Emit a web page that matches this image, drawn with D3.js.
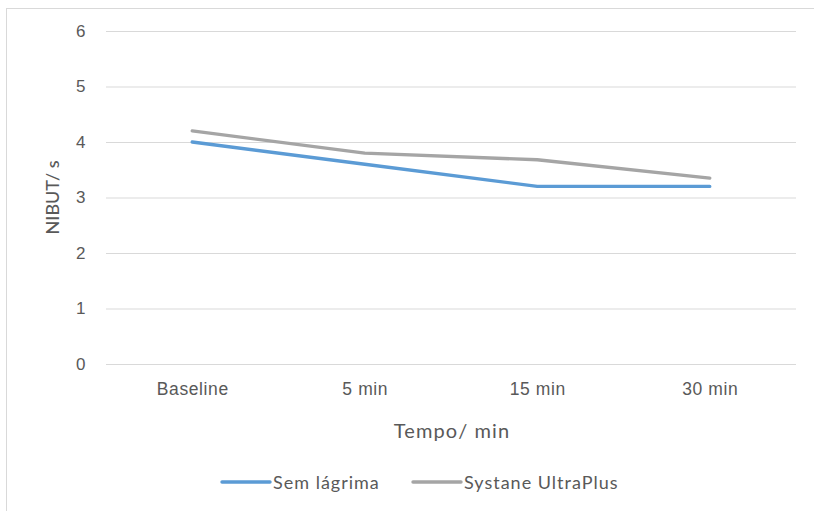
<!DOCTYPE html>
<html>
<head>
<meta charset="utf-8">
<script src="https://cdn.jsdelivr.net/npm/d3@7"></script>
<style>
  html, body { margin: 0; padding: 0; background: #fff; }
  svg { display: block; font-family: Lato, "Open Sans", sans-serif; }
</style>
</head>
<body>
<svg id="chart" width="814" height="511"></svg>
<script>
// Time points and NIBUT means (seconds)
const categories = ["Baseline", "5 min", "15 min", "30 min"];
const semLagrima = [4.0, 3.6, 3.2, 3.2];
const systane = [4.2, 3.8, 3.68, 3.35];
const yTicks = [0, 1, 2, 3, 4, 5, 6];
const seriesNames = ["Sem lágrima", "Systane UltraPlus"];
const seriesColors = ["#5b9bd5", "#a5a5a5"];

const svg = d3.select("#chart");

// outer chart frame
svg.append("rect")
  .attr("x", 6.5).attr("y", 8.5)
  .attr("width", 820).attr("height", 520)
  .attr("fill", "none").attr("stroke", "#d9d9d9").attr("stroke-width", 1);

const plot = { left: 106, right: 796, top: 31, bottom: 364 };

const x = d3.scalePoint().domain(categories)
  .range([plot.left, plot.right]).padding(0.5);
const y = d3.scaleLinear().domain([0, 6]).range([plot.bottom, plot.top]);

// horizontal gridlines + y labels
const yAxis = d3.axisLeft(y).tickValues(yTicks).tickSize(plot.right - plot.left).tickPadding(20).tickFormat(d3.format("d"));
const gy = svg.append("g").attr("transform", `translate(${plot.right},0)`).call(yAxis);
gy.select(".domain").remove();
gy.selectAll(".tick line").attr("stroke", "#d9d9d9").attr("stroke-width", 1);
gy.selectAll(".tick text").attr("fill", "#595959").style("font-size", "17px").style("letter-spacing", "0.5px");

// category labels
const xAxis = d3.axisBottom(x).tickSize(0).tickPadding(19);
const gx = svg.append("g").attr("transform", `translate(0,${plot.bottom})`).call(xAxis);
gx.select(".domain").remove();
gx.selectAll(".tick text").attr("fill", "#595959").style("font-size", "17.5px").style("letter-spacing", "0.6px");

// series lines
const line = d3.line().x((d, i) => x(categories[i])).y(d => y(d));
[semLagrima, systane].forEach((vals, k) => {
  svg.append("path").datum(vals)
    .attr("d", line)
    .attr("fill", "none")
    .attr("stroke", seriesColors[k])
    .attr("stroke-width", 3.4)
    .attr("stroke-linecap", "round")
    .attr("stroke-linejoin", "round");
});

// axis titles
svg.append("text")
  .attr("x", 452).attr("y", 438)
  .attr("text-anchor", "middle")
  .attr("fill", "#595959")
  .style("font-size", "20px")
  .style("letter-spacing", "1.1px")
  .text("Tempo/ min");

svg.append("text")
  .attr("transform", `translate(59,${(plot.top + plot.bottom) / 2}) rotate(-90)`)
  .attr("text-anchor", "middle")
  .attr("fill", "#595959")
  .style("font-size", "18px")
  .style("font-weight", "500")
  .text("NIBUT/ s");

// legend
const legend = svg.append("g");
const legendX = [222, 413];
seriesNames.forEach((name, k) => {
  const g = legend.append("g").attr("transform", `translate(${legendX[k]},482)`);
  g.append("line").attr("x1", 0).attr("x2", 48).attr("y1", 0).attr("y2", 0)
    .attr("stroke", seriesColors[k]).attr("stroke-width", 3.4).attr("stroke-linecap", "round");
  g.append("text").attr("x", 51).attr("y", 6.5)
    .attr("fill", "#595959").style("font-size", "18px").style("letter-spacing", "1px").text(name);
});
</script>
</body>
</html>
